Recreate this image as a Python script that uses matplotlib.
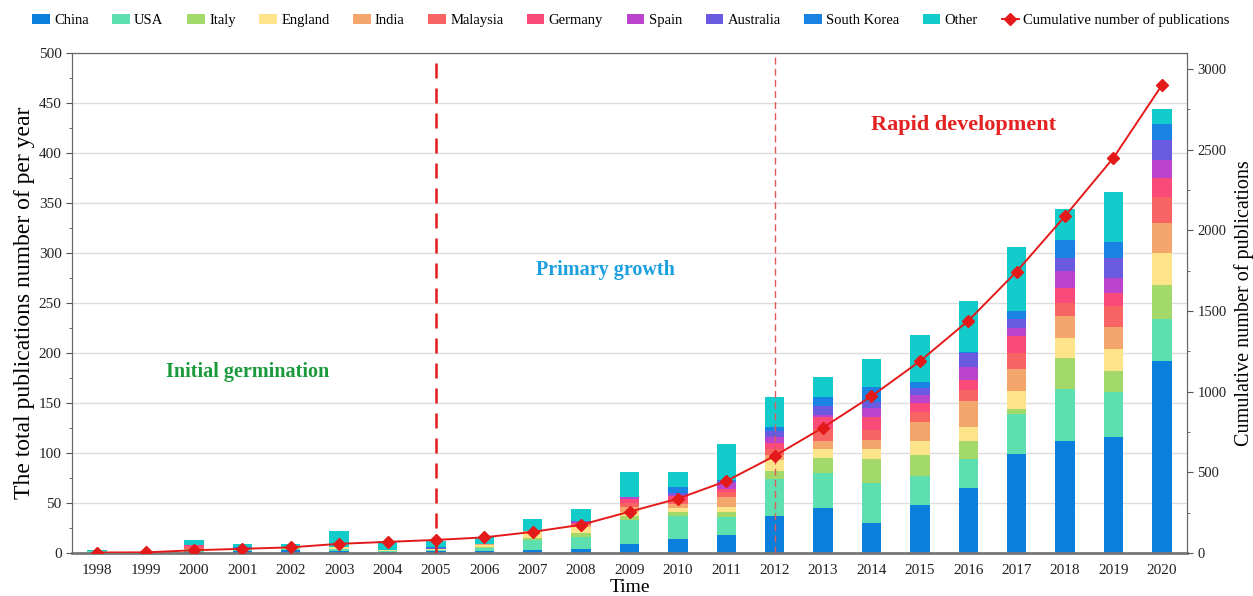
import matplotlib
matplotlib.use("Agg")
import matplotlib.pyplot as plt
import numpy as np

years = list(range(1998, 2021))
countries = ["China", "USA", "Italy", "England", "India", "Malaysia", "Germany",
             "Spain", "Australia", "South Korea", "Other"]
colors = ["#0a7fdc", "#5ddfb0", "#a3d86a", "#fde48a", "#f5a66c", "#f86464",
          "#f94a7a", "#bb44cc", "#6a5ae0", "#1a82e2", "#13cbcb"]

china     = [0, 0, 1, 2, 3, 2, 1, 2, 2, 3, 4, 9, 14, 18, 37, 45, 30, 48, 65, 99, 112, 116, 192]
usa       = [2, 0, 2, 2, 1, 2, 1, 1, 3, 10, 12, 24, 23, 18, 37, 35, 40, 29, 29, 40, 52, 45, 42]
italy     = [0, 0, 1, 0, 1, 0, 0, 0, 1, 2, 4, 4, 4, 5, 8, 15, 24, 21, 18, 5, 31, 21, 34]
england   = [0, 0, 0, 1, 1, 2, 1, 1, 2, 6, 6, 4, 4, 5, 11, 9, 10, 14, 14, 18, 20, 22, 32]
india     = [0, 0, 0, 0, 0, 0, 0, 0, 1, 1, 2, 5, 4, 10, 5, 8, 9, 19, 26, 22, 22, 22, 30]
malaysia  = [0, 0, 2, 0, 0, 0, 0, 0, 0, 0, 1, 4, 4, 5, 6, 12, 10, 10, 11, 16, 13, 21, 26]
germany   = [0, 0, 2, 0, 0, 0, 0, 0, 0, 0, 1, 4, 4, 3, 6, 12, 13, 9, 10, 17, 15, 13, 19]
spain     = [0, 0, 0, 0, 0, 0, 0, 0, 0, 0, 1, 2, 1, 6, 6, 2, 9, 8, 13, 8, 17, 15, 18]
australia = [0, 0, 0, 0, 0, 0, 0, 1, 0, 0, 1, 0, 2, 2, 6, 9, 6, 7, 14, 9, 13, 20, 20]
s_korea   = [0, 0, 0, 1, 0, 0, 0, 1, 0, 0, 0, 0, 6, 1, 4, 9, 15, 6, 1, 8, 18, 16, 16]
other     = [1, 1, 5, 3, 3, 16, 9, 6, 7, 12, 12, 25, 15, 36, 30, 20, 28, 47, 51, 64, 31, 50, 15]
cumulative = [3, 4, 17, 26, 35, 57, 69, 81, 97, 131, 175, 256, 337, 446, 602,
              778, 972, 1189, 1440, 1745, 2089, 2450, 2900]

series = [china, usa, italy, england, india, malaysia, germany, spain,
          australia, s_korea, other]

plt.rcParams["font.family"] = ["Liberation Serif", "DejaVu Serif"]

fig = plt.figure(figsize=(12.53, 5.96), dpi=100)
ax = fig.add_axes([72 / 1253, 43 / 596, (1187 - 72) / 1253, 500 / 596])

x = np.array(years)
bottom = np.zeros(len(years))
handles = []
for name, vals, c in zip(countries, series, colors):
    b = ax.bar(x, vals, width=0.4, bottom=bottom, color=c, label=name, zorder=2)
    handles.append(b)
    bottom += np.array(vals)

ax.set_xlim(1997.48, 2020.52)
ax.set_ylim(0, 500)
ax.set_yticks(np.arange(0, 501, 50))
ax.set_yticks(np.arange(0, 501, 25), minor=True)
ax.set_xticks(years)
ax.set_xticklabels([str(y) for y in years])
ax.grid(axis="y", color="#dddddd", linewidth=1, zorder=0)
ax.tick_params(axis="both", labelsize=11, colors="#222222")
ax.tick_params(axis="x", length=0, pad=8)
ax.tick_params(axis="y", which="major", length=4, color="#555555")
ax.tick_params(axis="y", which="minor", length=2.5, color="#555555")
for s in ["left", "right", "top"]:
    ax.spines[s].set_color("#666666")
ax.spines["bottom"].set_color("#777777")
ax.spines["bottom"].set_linewidth(2)
ax.set_xlabel("Time", fontsize=14, labelpad=1)
ax.set_ylabel("The total publications number of per year", fontsize=17, labelpad=3)

ax2 = ax.twinx()
ax2.set_ylim(0, 3100)
ax2.set_yticks(np.arange(0, 3001, 500))
ax2.set_yticks(np.arange(0, 3001, 250), minor=True)
ax2.tick_params(axis="y", labelsize=10.5, colors="#222222")
ax2.tick_params(axis="y", which="major", length=4, color="#555555")
ax2.tick_params(axis="y", which="minor", length=2.5, color="#555555")
for s in ["left", "right", "top"]:
    ax2.spines[s].set_color("#666666")
ax2.spines["bottom"].set_visible(False)
ax2.set_ylabel("Cumulative number of publications", fontsize=14.5, labelpad=5)
line, = ax2.plot(x, cumulative, color="#e41a1a", marker="D", markersize=6.5,
                 linewidth=1.4, label="Cumulative number of publications", zorder=5)

# stage separators
ax.axvline(2005, color="#e41a1a", linestyle=(0, (6, 4)), linewidth=1.8, zorder=3)
ax.axvline(2012, color="#e05a5a", linestyle=(0, (5, 3)), linewidth=1.0, zorder=3)

ax.text(2001.1, 181, "Initial germination", color="#1a9a3a", fontsize=14.5,
        fontweight="bold", ha="center", va="center")
ax.text(2008.5, 283, "Primary growth", color="#1a9fdf", fontsize=14.5,
        fontweight="bold", ha="center", va="center")
ax.text(2015.9, 428, "Rapid development", color="#e52222", fontsize=16,
        fontweight="bold", ha="center", va="center")

fig.legend(handles + [line], countries + ["Cumulative number of publications"],
           loc="upper center", bbox_to_anchor=(0.5036, 0.995), ncol=12, frameon=False,
           fontsize=10.5, handlelength=1.2, handleheight=0.75, columnspacing=1.62,
           handletextpad=0.3, borderaxespad=0.3)

fig.savefig("out.png", dpi=100)
